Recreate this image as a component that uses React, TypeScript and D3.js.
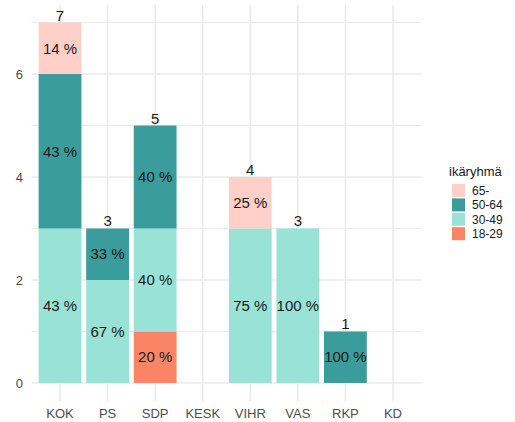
import { useEffect, useRef } from 'react'
import * as d3 from 'd3'

const categories = ['KOK', 'PS', 'SDP', 'KESK', 'VIHR', 'VAS', 'RKP', 'KD']
const groups = ['18-29', '30-49', '50-64', '65-']
const v1829 = [0, 0, 1, 0, 0, 0, 0, 0]
const v3049 = [3, 2, 2, 0, 3, 3, 0, 0]
const v5064 = [3, 1, 2, 0, 0, 0, 1, 0]
const v65 = [1, 0, 0, 0, 1, 0, 0, 0]
const yTicks = [0, 2, 4, 6]
const groupColors = ['#FA8566', '#99E3D6', '#3B9C9C', '#FFD0C8']

export default function App() {
  const svgRef = useRef<SVGSVGElement>(null)

  useEffect(() => {
    if (!svgRef.current) return
    const svg = d3.select(svgRef.current)
    svg.selectAll('*').remove()

    const font = 'Liberation Sans, Arial, Helvetica, sans-serif'
    const left = 31.5, right = 421.5, top = 4.5, bottom = 401

    const rows = categories.map((c, i) => {
      const r: any = { cat: c }
      r['18-29'] = v1829[i]
      r['30-49'] = v3049[i]
      r['50-64'] = v5064[i]
      r['65-'] = v65[i]
      r.total = v1829[i] + v3049[i] + v5064[i] + v65[i]
      return r
    })

    const x = d3.scaleBand().domain(categories).range([left, right]).paddingInner(0.1).paddingOuter(0.15)
    const y = d3.scaleLinear().domain([-0.35, 7.35]).range([bottom, top])
    const color = d3.scaleOrdinal<string>().domain(groups).range(groupColors)

    const grid = svg.append('g')
    d3.range(1, 8, 2).forEach(t => {
      grid.append('line')
        .attr('x1', left).attr('x2', right)
        .attr('y1', y(t)).attr('y2', y(t))
        .attr('stroke', '#EBEBEB').attr('stroke-width', 1)
    })
    yTicks.forEach(t => {
      grid.append('line')
        .attr('x1', left).attr('x2', right)
        .attr('y1', y(t)).attr('y2', y(t))
        .attr('stroke', '#EBEBEB').attr('stroke-width', 1.6)
    })
    categories.forEach(c => {
      const cx = x(c)! + x.bandwidth() / 2
      grid.append('line')
        .attr('x1', cx).attr('x2', cx)
        .attr('y1', top).attr('y2', bottom)
        .attr('stroke', '#EBEBEB').attr('stroke-width', 1.6)
    })

    const series = d3.stack().keys(groups)(rows)

    const bars = svg.append('g')
    series.forEach(s => {
      s.forEach((d: any) => {
        if (d[1] - d[0] <= 0) return
        const cx = x(d.data.cat)!
        bars.append('rect')
          .attr('x', cx).attr('width', x.bandwidth())
          .attr('y', y(d[1])).attr('height', y(d[0]) - y(d[1]))
          .attr('fill', color(s.key))
      })
    })

    series.forEach(s => {
      s.forEach((d: any) => {
        const v = d[1] - d[0]
        if (v <= 0) return
        bars.append('text')
          .attr('x', x(d.data.cat)! + x.bandwidth() / 2)
          .attr('y', y((d[0] + d[1]) / 2))
          .attr('dy', '0.35em')
          .attr('text-anchor', 'middle')
          .style('font-family', font).style('font-size', '15px')
          .attr('fill', '#1A1A1A')
          .text(Math.round((v / d.data.total) * 100) + ' %')
      })
    })

    rows.filter(r => r.total > 0).forEach(r => {
      bars.append('text')
        .attr('x', x(r.cat)! + x.bandwidth() / 2)
        .attr('y', y(r.total) - 2)
        .attr('text-anchor', 'middle')
        .style('font-family', font).style('font-size', '15px')
        .attr('fill', '#1A1A1A')
        .text(r.total)
    })

    const axes = svg.append('g').style('font-family', font).style('font-size', '13px')
    yTicks.forEach(t => {
      axes.append('text')
        .attr('x', 23).attr('y', y(t)).attr('dy', '0.35em')
        .attr('text-anchor', 'end').attr('fill', '#4D4D4D')
        .text(t)
    })
    categories.forEach(c => {
      axes.append('text')
        .attr('x', x(c)! + x.bandwidth() / 2).attr('y', 418)
        .attr('text-anchor', 'middle').attr('fill', '#4D4D4D')
        .text(c)
    })

    const legend = svg.append('g').style('font-family', font)
    legend.append('text')
      .attr('x', 449).attr('y', 176)
      .style('font-size', '13px').attr('fill', '#1A1A1A')
      .text('ikäryhmä')
    groups.slice().reverse().forEach((g, i) => {
      const ky = 184 + i * 14.4
      legend.append('rect')
        .attr('x', 452).attr('y', ky)
        .attr('width', 13).attr('height', 13)
        .attr('fill', color(g))
      legend.append('text')
        .attr('x', 472).attr('y', ky + 6.5).attr('dy', '0.35em')
        .style('font-size', '12px').attr('fill', '#1A1A1A')
        .text(g)
    })
  }, [])

  return (
    <div style={{ position: 'fixed', left: 0, top: 0, width: 515, height: 422, background: '#fff' }}>
      <svg ref={svgRef} width={515} height={422}></svg>
    </div>
  )
}
